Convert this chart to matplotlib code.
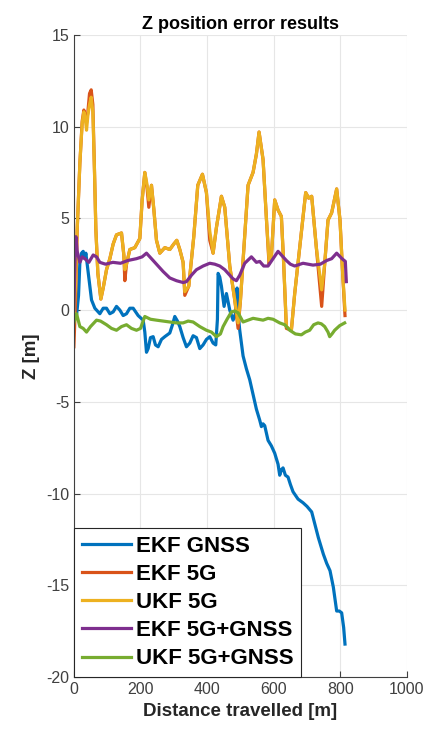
import matplotlib
matplotlib.use("Agg")
import matplotlib.pyplot as plt

plt.rcParams["font.family"] = ["Liberation Sans", "DejaVu Sans"]
plt.rcParams["axes.unicode_minus"] = False

# EKF GNSS
d_ekf_gnss = [0, 8, 14, 18, 23, 28, 33, 36, 42, 48, 53, 63, 78, 88, 98, 108, 118, 128, 138, 148,
              158, 168, 178, 193, 208, 213, 218, 223, 230, 238, 245, 253, 263, 273, 288, 296, 303,
              311, 318, 328, 338, 348, 358, 368, 378, 388, 398, 408, 418, 426, 431, 433, 438, 443,
              451, 458, 468, 478, 486, 490, 493, 498, 508, 518, 528, 538, 548, 558, 563, 568, 573,
              583, 593, 603, 613, 618, 623, 628, 635, 643, 650, 658, 673, 688, 700, 714, 724, 734,
              749, 759, 769, 779, 789, 797, 804, 810, 814]
z_ekf_gnss = [0.0, -0.3, 0.8, 2.6, 3.1, 3.2, 2.8, 3.1, 2.2, 1.3, 0.55, 0.1, -0.2, 0.1, 0.1, -0.2,
              -0.1, 0.2, 0.0, -0.3, -0.2, 0.1, 0.1, -0.3, -0.55, -1.2, -2.3, -2.1, -1.5, -1.45, -1.9,
              -2.0, -1.6, -1.45, -1.25, -0.8, -0.35, -0.6, -0.9, -1.5, -2.0, -1.8, -1.4, -1.5, -2.1,
              -1.9, -1.6, -1.45, -1.8, -1.9, -0.5, 2.0, 1.8, 1.3, 0.2, 0.9, 0.0, -0.55, -0.15, 1.2,
              -0.2, -1.1, -2.5, -3.2, -3.8, -4.6, -5.4, -6.0, -6.35, -6.2, -6.3, -7.1, -7.4, -7.8,
              -8.4, -9.0, -8.7, -8.6, -9.0, -9.1, -9.5, -9.9, -10.3, -10.5, -10.7, -11.0, -11.7,
              -12.4, -13.3, -13.8, -14.2, -15.1, -16.4, -16.4, -16.5, -17.3, -18.2]

# EKF 5G and UKF 5G share the same distance samples
d_5g = [0, 5, 10, 18, 25, 30, 35, 38, 42, 47, 52, 57, 62, 66, 72, 81, 88, 98, 108, 118, 128, 143,
        150, 153, 158, 168, 183, 198, 205, 213, 220, 225, 233, 240, 248, 258, 273, 288, 300, 309,
        318, 328, 333, 345, 360, 372, 386, 398, 408, 418, 428, 443, 453, 468, 483, 493, 500, 508,
        523, 538, 548, 556, 568, 578, 586, 593, 603, 613, 623, 630, 638, 653, 663, 678, 696, 705,
        714, 728, 744, 753, 763, 774, 789, 799, 807, 814]
z_ekf_5g = [-2.0, 0.5, 4.4, 8.0, 10.3, 10.9, 10.5, 10.2, 10.8, 11.8, 12.0, 11.2, 7.5, 4.4, 2.0,
            0.6, 1.2, 2.2, 2.8, 3.6, 4.1, 4.2, 3.0, 1.6, 2.5, 3.3, 3.4, 3.9, 6.0, 7.5, 6.6, 5.6,
            6.8, 5.5, 3.8, 3.1, 3.4, 3.3, 3.6, 3.8, 3.3, 2.6, 0.8, 1.3, 4.0, 6.8, 7.4, 6.4, 3.8,
            3.1, 4.5, 6.2, 5.6, 2.4, 0.55, -1.0, 0.5, 2.7, 6.8, 7.5, 8.5, 9.7, 8.2, 5.0, 2.5, 2.9,
            6.0, 5.45, 5.1, 2.5, -1.0, -1.1, 0.9, 3.4, 6.4, 6.1, 6.2, 3.4, 0.2, 2.5, 4.9, 5.3, 6.6,
            4.9, 2.0, -0.3]
z_ukf_5g = [-0.5, 1.5, 4.4, 8.0, 10.2, 10.8, 10.3, 9.8, 10.6, 11.2, 11.6, 10.8, 7.5, 4.4, 2.0,
            0.6, 1.2, 2.2, 2.8, 3.6, 4.1, 4.2, 3.0, 2.2, 2.5, 3.3, 3.4, 3.9, 6.0, 7.5, 6.8, 6.0,
            6.8, 5.5, 3.8, 3.1, 3.4, 3.3, 3.6, 3.8, 3.3, 2.6, 1.0, 1.3, 4.0, 6.8, 7.4, 6.4, 4.3,
            3.1, 4.5, 6.2, 5.6, 2.4, 0.55, -0.7, 0.5, 2.7, 6.8, 7.5, 8.5, 9.7, 8.2, 5.0, 2.7, 2.9,
            6.0, 5.45, 5.1, 2.5, -0.9, -1.1, 0.9, 3.4, 6.4, 6.1, 6.2, 3.4, 1.1, 2.5, 4.9, 5.3, 6.6,
            4.9, 2.0, 0.0]

# EKF 5G+GNSS
d_ekf_fused = [0, 3, 6, 10, 18, 25, 33, 45, 58, 68, 78, 95, 117, 140, 162, 188, 205, 218, 233, 248,
               268, 288, 308, 328, 338, 353, 368, 388, 408, 423, 438, 453, 468, 478, 488, 498, 513,
               533, 548, 558, 570, 583, 598, 613, 628, 638, 650, 663, 688, 703, 718, 740, 759, 774,
               789, 805, 815, 818]
z_ekf_fused = [0.0, 2.5, 4.0, 3.2, 2.6, 2.9, 2.8, 2.6, 3.0, 2.9, 2.6, 2.5, 2.6, 2.55, 2.7, 2.8,
               2.9, 3.1, 2.8, 2.5, 2.1, 1.75, 1.6, 1.5, 1.55, 1.9, 2.2, 2.4, 2.55, 2.5, 2.4, 2.2,
               1.9, 1.7, 1.6, 1.9, 2.55, 2.9, 2.6, 2.65, 2.4, 2.4, 2.8, 3.2, 2.9, 2.7, 2.5, 2.4,
               2.55, 2.5, 2.45, 2.5, 2.7, 2.8, 3.1, 2.8, 2.65, 1.55]

# UKF 5G+GNSS
d_ukf_fused = [0, 8, 18, 28, 38, 50, 68, 80, 98, 113, 128, 143, 158, 173, 188, 200, 213, 230, 248,
               268, 288, 308, 328, 343, 358, 378, 398, 413, 428, 440, 448, 460, 473, 483, 493, 508,
               523, 538, 553, 568, 583, 598, 618, 633, 648, 665, 683, 695, 708, 720, 733, 743, 753,
               763, 768, 775, 783, 798, 813]
z_ukf_fused = [-0.7, -0.2, -0.9, -1.0, -1.2, -0.9, -0.55, -0.6, -0.8, -1.0, -1.1, -0.9, -0.8, -1.0,
               -1.1, -1.0, -0.35, -0.5, -0.55, -0.6, -0.65, -0.7, -0.7, -0.6, -0.65, -0.9, -1.1,
               -1.2, -1.45, -1.3, -0.9, -0.5, -0.1, -0.05, -0.15, -0.65, -0.55, -0.45, -0.5, -0.55,
               -0.45, -0.5, -0.7, -0.8, -1.1, -1.3, -1.35, -1.2, -1.1, -0.8, -0.7, -0.75, -0.9,
               -1.2, -1.45, -1.3, -1.1, -0.85, -0.7]

x_ticks = [0, 200, 400, 600, 800, 1000]
y_ticks = [-20, -15, -10, -5, 0, 5, 10, 15]

fig = plt.figure(figsize=(4.32, 7.40), dpi=100)
ax = fig.add_axes([0.171, 0.085, 0.771, 0.868])

lw = 2.3
ax.plot(d_ekf_gnss, z_ekf_gnss, color="#0072BD", lw=lw, label="EKF GNSS")
ax.plot(d_5g, z_ekf_5g, color="#D95319", lw=lw, label="EKF 5G")
ax.plot(d_5g, z_ukf_5g, color="#EDB120", lw=lw, label="UKF 5G")
ax.plot(d_ekf_fused, z_ekf_fused, color="#7E2F8E", lw=lw, label="EKF 5G+GNSS")
ax.plot(d_ukf_fused, z_ukf_fused, color="#77AC30", lw=lw, label="UKF 5G+GNSS")

ax.set_xlim(0, 1000)
ax.set_ylim(-20, 15)
ax.set_xticks(x_ticks)
ax.set_yticks(y_ticks)
ax.grid(True, color="#e6e6e6", lw=0.8)
ax.set_axisbelow(True)
for s in ["top", "right"]:
    ax.spines[s].set_visible(False)
for s in ["left", "bottom"]:
    ax.spines[s].set_color("#404040")
ax.tick_params(direction="in", length=4, colors="#404040", labelsize=11.5)

ax.set_title("Z position error results", fontsize=13, fontweight="bold", pad=4)
ax.set_xlabel("Distance travelled [m]", fontsize=13.5, fontweight="bold", color="#262626")
ax.set_ylabel("Z [m]", fontsize=13.5, fontweight="bold", color="#262626")

leg = ax.legend(loc="lower left", borderaxespad=0,
                prop={"weight": "bold", "size": 16}, fancybox=False, framealpha=1,
                handlelength=2.2, handletextpad=0.25, labelspacing=0.32, borderpad=0.35)
leg.get_frame().set_edgecolor("#262626")
leg.get_frame().set_linewidth(0.8)

fig.savefig("out.png", dpi=100)
